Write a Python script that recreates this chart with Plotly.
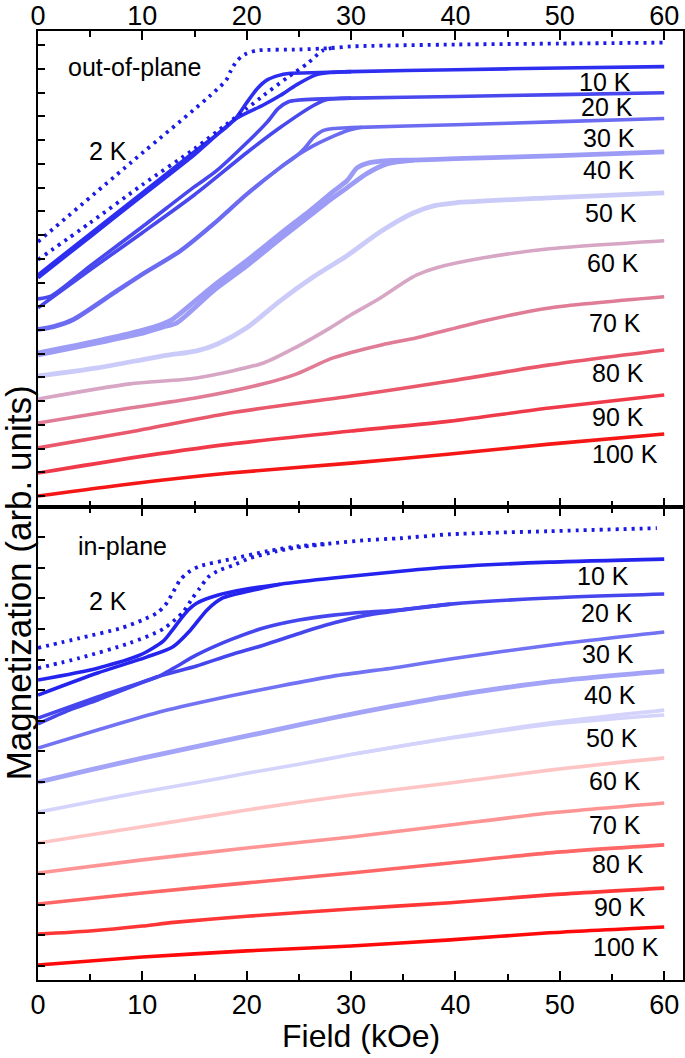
import plotly.graph_objects as go

# ---------------- data (field in kOe, magnetization in arb. units) ----------------
# OUT-OF-PLANE panel
op_2K_up_x = [0, 5, 10, 15, 18, 20, 21.6, 23.9, 25.8, 27.3, 28.5]
op_2K_up_y = [9.96, 11.52, 13.12, 14.64, 15.65, 16.33, 16.88, 17.64, 18.23, 18.78, 18.90]
op_2K_dn_x = [0, 9, 18, 18.5, 19, 19.5, 20, 21, 25, 28, 30, 40, 50, 60]
op_2K_dn_y = [10.72, 14.09, 17.51, 17.95, 18.31, 18.52, 18.65, 18.78, 18.82, 18.88, 18.95, 19.03, 19.07, 19.11]

op_10K_a_x = [0, 5, 10, 15, 18, 19, 20, 21, 22, 23, 24, 27, 30, 40, 50, 60]
op_10K_a_y = [9.32, 11.05, 12.78, 14.51, 15.53, 15.95, 16.58, 17.17, 17.55, 17.72, 17.81, 17.85, 17.89, 17.97, 18.04, 18.10]
op_10K_b_x = [0, 5, 10, 15, 19, 21.5, 23.2, 24.8, 26.7, 28, 30]
op_10K_b_y = [9.20, 10.93, 12.66, 14.39, 15.91, 16.46, 16.88, 17.34, 17.76, 17.85, 17.89]

op_20K_a_x = [0, 1.3, 5, 10, 15, 17, 20, 22, 23, 24, 25, 30, 40, 50, 60]
op_20K_a_y = [8.31, 8.44, 9.70, 11.35, 13.04, 13.67, 14.89, 15.78, 16.33, 16.62, 16.69, 16.77, 16.84, 16.92, 17.00]
op_20K_b_x = [0, 5, 10, 15, 20, 23.2, 26.4, 27.7, 29, 30]
op_20K_b_y = [7.93, 9.54, 11.10, 12.70, 14.47, 15.53, 16.46, 16.71, 16.76, 16.77]

op_30K_a_x = [0, 1.5, 3.4, 7.2, 10, 13.6, 16.8, 20, 23.2, 24.8, 25.5, 26.4, 27.3, 28.3, 30, 40, 50, 60]
op_30K_a_y = [7.05, 7.17, 7.47, 8.57, 9.37, 10.34, 11.48, 12.74, 13.84, 14.35, 14.64, 15.11, 15.40, 15.49, 15.53, 15.65, 15.78, 15.91]
op_30K_b_x = [0, 1.5, 3.4, 7.2, 10, 13.6, 16.8, 20, 23.2, 24.8, 26.4, 28, 29.6, 31]
op_30K_b_y = [7.00, 7.12, 7.42, 8.52, 9.33, 10.30, 11.44, 12.70, 13.84, 14.35, 14.77, 15.11, 15.40, 15.54]

op_40K_a_x = [0, 5.7, 9.8, 12, 12.9, 16.8, 20, 23.2, 26.4, 28, 29.6, 30.6, 31.8, 33.5, 36, 40, 50, 60]
op_40K_a_y = [6.03, 6.54, 6.96, 7.26, 7.45, 8.86, 9.92, 11.05, 12.15, 12.74, 13.29, 13.84, 14.05, 14.14, 14.16, 14.22, 14.35, 14.51]
op_40K_b_x = [0, 5.7, 9.8, 12, 13.3, 16.8, 20, 23.2, 26.4, 28, 29.6, 31.5, 33.5, 36]
op_40K_b_y = [5.95, 6.46, 6.84, 7.13, 7.30, 8.65, 9.70, 10.84, 11.94, 12.49, 12.99, 13.59, 14.01, 14.16]

op_50K_x = [0, 5.7, 12, 15.2, 17.2, 20, 23.2, 26.4, 29.6, 32.8, 36, 38, 40, 49, 60]
op_50K_y = [5.06, 5.40, 5.91, 6.12, 6.41, 7.09, 8.23, 9.24, 10.13, 11.14, 11.94, 12.24, 12.36, 12.57, 12.78]

op_60K_x = [0, 8.8, 15.2, 21.6, 24.8, 28, 30, 32.8, 35, 36.3, 38.2, 42.7, 49, 60]
op_60K_y = [4.09, 4.73, 4.98, 5.61, 6.29, 7.09, 7.64, 8.35, 8.99, 9.32, 9.62, 10.04, 10.42, 10.76]

op_70K_x = [0, 8.8, 15.2, 21.6, 24.8, 28, 30, 33, 36.3, 42.7, 49, 60]
op_70K_y = [3.08, 3.71, 4.14, 4.73, 5.15, 5.78, 6.05, 6.38, 6.67, 7.38, 7.93, 8.40]

op_80K_x = [0, 8.8, 18.4, 30, 39.5, 49, 60]
op_80K_y = [2.03, 2.70, 3.50, 4.22, 4.85, 5.53, 6.16]

op_90K_x = [0, 8.8, 18.4, 30, 39.5, 49, 60]
op_90K_y = [0.97, 1.60, 2.19, 2.74, 3.16, 3.71, 4.26]

op_100K_x = [0, 8.8, 18.4, 30, 39.5, 49, 60]
op_100K_y = [0.00, 0.51, 0.97, 1.39, 1.77, 2.19, 2.62]

# IN-PLANE panel
ip_2K_dn_x = [0, 4, 8, 10, 11.4, 12.2, 12.9, 13.6, 14.4, 15.5, 18.5, 22, 25, 28.3, 31.5, 34.7, 39.5, 49, 59.3]
ip_2K_dn_y = [10.38, 10.70, 11.03, 11.29, 11.52, 11.78, 12.17, 12.59, 12.85, 13.05, 13.28, 13.54, 13.70, 13.80, 13.90, 13.96, 14.09, 14.19, 14.29]
ip_2K_up_x = [0, 4, 8.8, 12, 13.9, 14.8, 15.5, 16.3, 17.2, 18.7, 20.3, 22.9, 25.1, 28]
ip_2K_up_y = [9.72, 10.05, 10.54, 11.00, 11.55, 12.01, 12.33, 12.69, 12.89, 13.08, 13.31, 13.54, 13.67, 13.78]

ip_10K_a_x = [0, 5.7, 9.8, 12, 12.8, 13.6, 14.4, 15.2, 17.2, 20, 23.2, 28.3, 35, 39.5, 49, 60]
ip_10K_a_y = [9.33, 9.72, 10.15, 10.60, 10.93, 11.29, 11.62, 11.84, 12.10, 12.30, 12.46, 12.66, 12.89, 13.02, 13.18, 13.28]
ip_10K_b_x = [0, 5.7, 10.4, 12.9, 14.6, 16.2, 17.7, 20, 23.2]
ip_10K_b_y = [8.84, 9.56, 10.08, 10.41, 10.96, 11.62, 12.01, 12.22, 12.46]

ip_20K_a_x = [0, 5.7, 11.4, 13, 15.2, 18.4, 21.6, 25, 28.3, 31.5, 34.5, 39.5, 49, 60]
ip_20K_a_y = [8.09, 8.78, 9.43, 9.72, 10.15, 10.64, 11.03, 11.29, 11.45, 11.55, 11.62, 11.81, 12.01, 12.14]
ip_20K_b_x = [0, 3, 5.7, 11.4, 15.2, 18.4, 21.6, 25.1, 28.3, 31.5, 34.5, 39.5]
ip_20K_b_y = [7.90, 8.35, 8.68, 9.43, 9.79, 10.15, 10.47, 10.86, 11.19, 11.45, 11.60, 11.81]

ip_30K_x = [0, 5.7, 12, 18.4, 23.2, 28.3, 34.7, 39.5, 49, 60]
ip_30K_y = [7.11, 7.70, 8.32, 8.81, 9.14, 9.46, 9.76, 10.02, 10.47, 10.90]

ip_40K_x = [0, 5, 10, 15.5, 22, 28.3, 34, 39.5, 49, 60]
ip_40K_y = [6.00, 6.40, 6.78, 7.18, 7.65, 8.10, 8.48, 8.81, 9.27, 9.62]

ip_50K_a_x = [0, 5, 10, 15.5, 20, 25, 30, 39.5, 49, 60]
ip_50K_a_y = [5.02, 5.35, 5.68, 6.00, 6.29, 6.58, 6.90, 7.45, 7.93, 8.35]
ip_50K_b_x = [30, 39.5, 49, 60]
ip_50K_b_y = [6.90, 7.43, 7.88, 8.19]

ip_60K_x = [0, 10, 20, 30, 39.5, 49, 60]
ip_60K_y = [4.01, 4.54, 5.09, 5.58, 5.97, 6.39, 6.79]

ip_70K_x = [0, 10, 20, 30, 39.5, 49, 60]
ip_70K_y = [3.03, 3.46, 3.85, 4.21, 4.60, 4.99, 5.32]

ip_80K_x = [0, 10, 20, 30, 39.5, 49, 60]
ip_80K_y = [2.02, 2.38, 2.71, 3.03, 3.36, 3.69, 3.95]

ip_90K_x = [0, 5, 10, 13, 20, 30, 39.5, 49, 60]
ip_90K_y = [1.04, 1.14, 1.30, 1.42, 1.62, 1.86, 2.06, 2.32, 2.54]

ip_100K_x = [0, 10, 20, 30, 39.5, 49, 60]
ip_100K_y = [0.03, 0.29, 0.49, 0.65, 0.85, 1.08, 1.27]

temps = ["10 K", "20 K", "30 K", "40 K", "50 K", "60 K", "70 K", "80 K", "90 K", "100 K"]
op_colors = ["#2e2ef0", "#4848ee", "#6c6cf2", "#9c9cf6", "#cbcbf9",
             "#d6a6c4", "#e07c96", "#e9596b", "#f03a4a", "#f51616"]
ip_colors = ["#2424ee", "#4646ee", "#7272f4", "#a3a3f8", "#d3d3fb",
             "#ffc4c4", "#ff9494", "#ff6666", "#ff3636", "#ff0a0a"]
dot_color_op = "#1c1ce6"
dot_color_ip = "#1a1ae4"

# label positions (x in kOe, y in panel units)
op_label_x = [54.3, 54.5, 54.7, 54.7, 54.9, 55.1, 55.3, 55.6, 55.6, 56.2]
op_label_y = [17.43, 16.41, 15.11, 13.76, 11.94, 9.83, 7.30, 5.19, 3.33, 1.77]
ip_label_x = [54.1, 54.5, 54.6, 54.8, 55.0, 55.3, 55.3, 55.6, 55.8, 56.3]
ip_label_y = [12.72, 11.52, 10.18, 8.84, 7.44, 6.04, 4.60, 3.33, 1.92, 0.62]

x_ticks = [0, 10, 20, 30, 40, 50, 60]

# ---------------- figure ----------------
fig = go.Figure()
LW = 3.6

def add(x, y, color, ax, width=LW, dash=None):
    line = dict(color=color, width=width, shape="spline", smoothing=0.7)
    if dash:
        line["dash"] = dash
    fig.add_trace(go.Scatter(x=x, y=y, mode="lines", line=line,
                             xaxis=ax[0], yaxis=ax[1], showlegend=False, hoverinfo="skip"))

TOP = ("x", "y")
BOT = ("x2", "y2")

op_series = [
    [(op_10K_a_x, op_10K_a_y), (op_10K_b_x, op_10K_b_y)],
    [(op_20K_a_x, op_20K_a_y), (op_20K_b_x, op_20K_b_y)],
    [(op_30K_a_x, op_30K_a_y), (op_30K_b_x, op_30K_b_y)],
    [(op_40K_a_x, op_40K_a_y), (op_40K_b_x, op_40K_b_y)],
    [(op_50K_x, op_50K_y)],
    [(op_60K_x, op_60K_y)],
    [(op_70K_x, op_70K_y)],
    [(op_80K_x, op_80K_y)],
    [(op_90K_x, op_90K_y)],
    [(op_100K_x, op_100K_y)],
]
ip_series = [
    [(ip_10K_a_x, ip_10K_a_y), (ip_10K_b_x, ip_10K_b_y)],
    [(ip_20K_a_x, ip_20K_a_y), (ip_20K_b_x, ip_20K_b_y)],
    [(ip_30K_x, ip_30K_y)],
    [(ip_40K_x, ip_40K_y)],
    [(ip_50K_a_x, ip_50K_a_y), (ip_50K_b_x, ip_50K_b_y)],
    [(ip_60K_x, ip_60K_y)],
    [(ip_70K_x, ip_70K_y)],
    [(ip_80K_x, ip_80K_y)],
    [(ip_90K_x, ip_90K_y)],
    [(ip_100K_x, ip_100K_y)],
]

for i in range(len(temps) - 1, -1, -1):
    w = LW + (1.2 if temps[i] in ("40 K", "50 K") else 0)
    for (xx, yy) in op_series[i]:
        add(xx, yy, op_colors[i], TOP, width=w)
    w2 = LW + (1.2 if temps[i] in ("40 K",) else 0)
    for (xx, yy) in ip_series[i]:
        add(xx, yy, ip_colors[i], BOT, width=w2)

add(op_2K_up_x, op_2K_up_y, dot_color_op, TOP, width=3.8, dash="3px,5px")
add(op_2K_dn_x, op_2K_dn_y, dot_color_op, TOP, width=3.8, dash="3px,5px")
add(ip_2K_up_x, ip_2K_up_y, dot_color_ip, BOT, width=3.8, dash="3px,5px")
add(ip_2K_dn_x, ip_2K_dn_y, dot_color_ip, BOT, width=3.8, dash="3px,5px")

FONT = "Liberation Sans, Arial, sans-serif"
ann_font = dict(family=FONT, size=25, color="black")
annotations = []
for t, xx, yy in zip(temps, op_label_x, op_label_y):
    annotations.append(dict(x=xx, y=yy, xref="x", yref="y", text=t, showarrow=False, font=ann_font))
for t, xx, yy in zip(temps, ip_label_x, ip_label_y):
    annotations.append(dict(x=xx, y=yy, xref="x2", yref="y2", text=t, showarrow=False, font=ann_font))
annotations += [
    dict(x=9.2, y=18.10, xref="x", yref="y", text="out-of-plane", showarrow=False, font=ann_font),
    dict(x=6.7, y=14.56, xref="x", yref="y", text="2 K", showarrow=False, font=ann_font),
    dict(x=8.05, y=13.70, xref="x2", yref="y2", text="in-plane", showarrow=False, font=ann_font),
    dict(x=6.7, y=11.91, xref="x2", yref="y2", text="2 K", showarrow=False, font=ann_font),
    dict(x=0.5, y=-0.059, xref="paper", yref="paper", text="Field (kOe)", showarrow=False,
         font=dict(family=FONT, size=32, color="black"), yanchor="middle"),
    dict(x=-0.031, y=0.418, xref="paper", yref="paper", text="Magnetization (arb. units)",
         showarrow=False, textangle=-90, font=dict(family=FONT, size=35, color="black"),
         xanchor="center", yanchor="middle"),
]

XR = [0, 61.8]
split = 473 / 949
common_x = dict(range=XR, tickvals=x_ticks, ticks="inside", ticklen=9, tickwidth=2,
                showline=True, linewidth=2, linecolor="black", mirror="ticks",
                showgrid=False, zeroline=False, tickcolor="black", automargin=False,
                minor=dict(dtick=5, tick0=0, ticks="inside", ticklen=6, tickwidth=2, tickcolor="black"),
                tickfont=dict(family=FONT, size=27, color="black"))
common_y = dict(ticks="inside", ticklen=7, tickwidth=2, tickcolor="black", dtick=1, tick0=0,
                showticklabels=False, showline=True, linewidth=2, linecolor="black",
                mirror=True, showgrid=False, zeroline=False, automargin=False)

fig.update_layout(
    width=685, height=1058,
    margin=dict(l=38, r=2, t=31, b=78, autoexpand=False),
    paper_bgcolor="white", plot_bgcolor="white",
    xaxis=dict(anchor="y", side="top", ticklabelstandoff=-7, **common_x),
    xaxis2=dict(anchor="y2", side="bottom", **common_x),
    yaxis=dict(anchor="x", domain=[split, 1], range=[-0.46, 19.6], **common_y),
    yaxis2=dict(anchor="x2", domain=[0, split], range=[-0.46, 14.98], **common_y),
    annotations=annotations,
    showlegend=False,
)

fig.write_html("out.html", config={"displayModeBar": False},
               post_script="document.body.style.margin='0';document.body.style.overflow='hidden';")
